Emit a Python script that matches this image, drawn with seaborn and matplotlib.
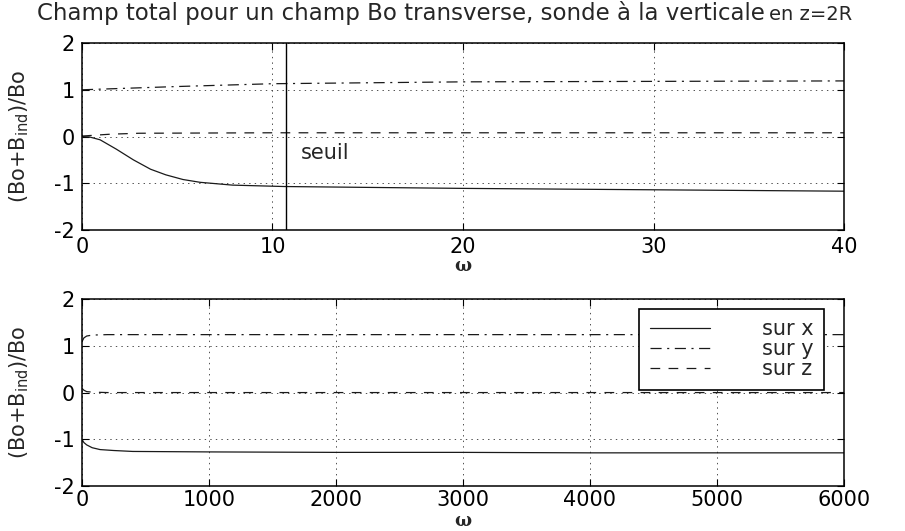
import matplotlib
matplotlib.use('Agg')
import matplotlib.pyplot as plt
import seaborn as sns
import pandas as pd
from matplotlib.lines import Line2D

# values
top_w_x = [0, 0.4, 0.95, 1.8, 2.7, 3.6, 4.4, 5.3, 6.2, 7.9, 10.6, 20, 30, 40]
top_b_x = [0.0, -0.01, -0.07, -0.27, -0.50, -0.70, -0.82, -0.92, -0.98, -1.04, -1.07, -1.11, -1.14, -1.17]
top_w_y = [0, 5, 10, 20, 30, 40]
top_b_y = [1.0, 1.07, 1.13, 1.17, 1.18, 1.19]
top_w_z = [0, 1.5, 3, 10, 20, 30, 40]
top_b_z = [0.01, 0.05, 0.07, 0.08, 0.08, 0.08, 0.08]
seuil = 10.7

bot_w_x = [0, 15, 37, 80, 142, 250, 400, 1000, 2000, 3000, 4000, 5000, 6000]
bot_b_x = [-1.0, -1.07, -1.12, -1.18, -1.22, -1.24, -1.26, -1.27, -1.28, -1.28, -1.29, -1.29, -1.29]
bot_w_y = [0, 15, 37, 80, 200, 6000]
bot_b_y = [1.09, 1.17, 1.21, 1.23, 1.24, 1.24]
bot_w_z = [0, 15, 37, 80, 200, 6000]
bot_b_z = [0.09, 0.05, 0.02, 0.01, 0.0, 0.0]

series_labels = ['sur x', 'sur y', 'sur z']
yticks = [-2, -1, 0, 1, 2]
top_xticks = [0, 10, 20, 30, 40]
bot_xticks = [0, 1000, 2000, 3000, 4000, 5000, 6000]

sns.set_theme(style='ticks')
plt.rcParams['font.family'] = ['DejaVu Sans']
plt.rcParams['lines.scale_dashes'] = False
plt.rcParams['axes.unicode_minus'] = False

styles = ['-', (0, (8, 4, 1.5, 4)), (0, (7, 6))]
line_kw = dict(color='#1a1a1a', lw=0.9)

fig = plt.figure(figsize=(9.05, 5.31), dpi=100)
ax1 = fig.add_axes([0.0906, 0.5669, 0.842, 0.352])
ax2 = fig.add_axes([0.0906, 0.0847, 0.842, 0.352])


def draw(ax, xs, ys, xticks):
    for w, b, ls in zip(xs, ys, styles):
        df = pd.DataFrame({'w': w, 'b': b})
        sns.lineplot(data=df, x='w', y='b', ax=ax, linestyle=ls, **line_kw)
    ax.set_xlim(xticks[0], xticks[-1])
    ax.set_ylim(-2, 2)
    ax.set_xticks(xticks)
    ax.set_yticks(yticks)
    ax.grid(True, color='#333333', lw=0.6, linestyle=(0, (1, 3)))
    ax.tick_params(direction='in', length=5, width=0.8, top=True, right=True,
                   labelsize=15, pad=5, colors='black')
    for s in ax.spines.values():
        s.set_color('black')
        s.set_linewidth(1.1)
    ax.set_ylabel('(Bo+B$_{\\mathrm{ind}}$)/Bo', fontsize=15)
    ax.yaxis.set_label_coords(-0.067, 0.5)
    ax.set_xlabel('ω', fontsize=13, family='DejaVu Serif', fontweight='bold')


draw(ax1, [top_w_x, top_w_y, top_w_z], [top_b_x, top_b_y, top_b_z], top_xticks)
ax1.xaxis.label.set_va('center')
ax1.xaxis.set_label_coords(0.5, -0.195)
ax1.axvline(seuil, color='black', lw=1.0)
ax1.text(11.5, -0.35, 'seuil', fontsize=15, va='center', ha='left')

draw(ax2, [bot_w_x, bot_w_y, bot_w_z], [bot_b_x, bot_b_y, bot_b_z], bot_xticks)
ax2.tick_params(axis='x', pad=3)
ax2.xaxis.label.set_va('bottom')
ax2.xaxis.set_label_coords(0.5, -0.233)

handles = [Line2D([], [], linestyle=ls, **line_kw) for ls in styles]
leg = ax2.legend(handles, series_labels, loc='upper right', bbox_to_anchor=(0.974, 0.947),
                 borderaxespad=0, fontsize=15, handlelength=2.9, handletextpad=2.5,
                 labelspacing=0.0, fancybox=False, framealpha=1, edgecolor='black',
                 borderpad=0.5)
leg.get_frame().set_linewidth(1.2)

t1 = fig.text(37 / 905, 1 - 13 / 531, 'Champ total pour un champ Bo transverse, sonde à la verticale',
              fontsize=16.5, ha='left', va='center')
fig.canvas.draw()
bb = t1.get_window_extent()
fig.text(bb.x1 / fig.bbox.width + 0.005, 1 - 14 / 531, 'en z=2R', fontsize=14, ha='left', va='center')

fig.savefig('out.png', dpi=100)
